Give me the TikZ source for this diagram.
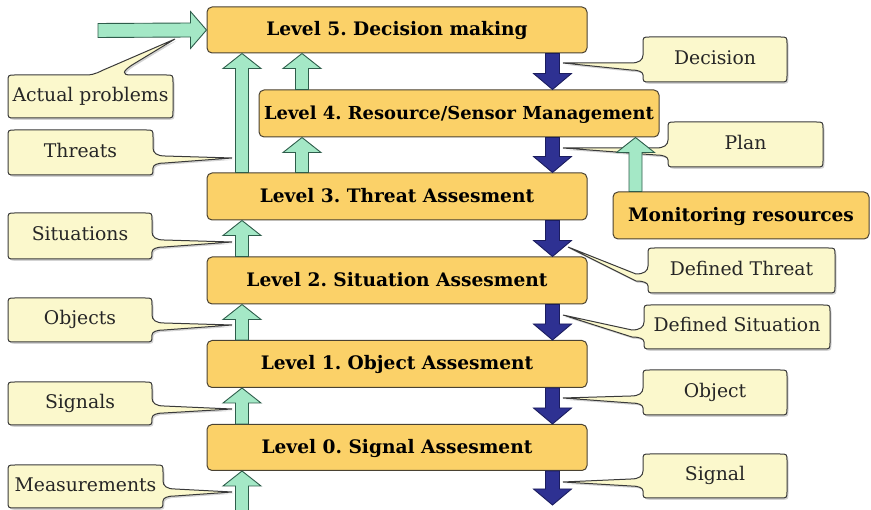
\documentclass[tikz,border=0pt]{standalone}
\usepackage{fontspec}
\setmainfont{DejaVu Serif}
\usetikzlibrary{calc,shadows}
\frenchspacing

\definecolor{boxfill}{HTML}{FBD168}
\definecolor{boxline}{HTML}{4A4232}
\definecolor{notefill}{HTML}{FBF8CC}
\definecolor{noteline}{HTML}{3A3A3A}
\definecolor{upfill}{HTML}{A4E8C6}
\definecolor{upline}{HTML}{2E5D4B}
\definecolor{downfill}{HTML}{2E3192}
\definecolor{downline}{HTML}{1B1D5E}

% callout whose pointer leaves the right side: name, L, T, R, B, tip, text
\newcommand{\noteright}[7]{%
  \draw[callout] ({#2+7},#3) -- ({#4-7},#3) .. controls (#4,#3) .. (#4,{#3+7})
    -- (#4,{#5-27}) .. controls (#4,{#5-22}) and ({#4+4},{#5-19}) .. ({#4+12},{#5-19})
    -- (#6) -- ({#4+12},{#5-12}) .. controls ({#4+4},{#5-12}) and (#4,{#5-10}) .. (#4,{#5-7})
    .. controls (#4,#5) .. ({#4-7},#5) -- ({#2+7},#5) .. controls (#2,#5) .. (#2,{#5-7})
    -- (#2,{#3+7}) .. controls (#2,#3) .. ({#2+7},#3) -- cycle;
  \node[notetext] (#1) at ({(#2+#4)/2},{(#3+#5)/2}) {#7};}

% callout whose pointer leaves the left side: name, L, T, R, B, tip, text
\newcommand{\noteleft}[7]{%
  \draw[callout] ({#2+7},#3) -- ({#4-7},#3) .. controls (#4,#3) .. (#4,{#3+7})
    -- (#4,{#5-7}) .. controls (#4,#5) .. ({#4-7},#5) -- ({#2+7},#5)
    .. controls (#2,#5) .. (#2,{#5-7})
    .. controls (#2,{#5-10}) and ({#2-4},{#5-12}) .. ({#2-12},{#5-12})
    -- (#6) -- ({#2-12},{#5-19}) .. controls ({#2-4},{#5-19}) and (#2,{#5-22}) .. (#2,{#5-27})
    -- (#2,{#3+7}) .. controls (#2,#3) .. ({#2+7},#3) -- cycle;
  \node[notetext] (#1) at ({(#2+#4)/2},{(#3+#5)/2}) {#7};}

% broad upward arrow: style, tail, head
\newcommand{\fatup}[3]{%
  \draw[#1] ($(#2)+(-6.5,0)$) -- ($(#3)+(-6.5,15)$) -- ($(#3)+(-19,15)$) -- (#3)
    -- ($(#3)+(19,15)$) -- ($(#3)+(6.5,15)$) -- ($(#2)+(6.5,0)$) -- cycle;}
% broad downward arrow: style, tail, head
\newcommand{\fatdown}[3]{%
  \draw[#1] ($(#2)+(-7,0)$) -- ($(#3)+(-7,-16)$) -- ($(#3)+(-19,-16)$) -- (#3)
    -- ($(#3)+(19,-16)$) -- ($(#3)+(7,-16)$) -- ($(#2)+(7,0)$) -- cycle;}
% broad rightward arrow: style, tail, head
\newcommand{\fatright}[3]{%
  \draw[#1] ($(#2)+(0,-7)$) -- ($(#3)+(-16,-7)$) -- ($(#3)+(-16,-18.5)$) -- (#3)
    -- ($(#3)+(-16,18.5)$) -- ($(#3)+(-16,7)$) -- ($(#2)+(0,7)$) -- cycle;}

\begin{document}
\begin{tikzpicture}[x=1pt,y=-1pt,
  level/.style={rectangle, rounded corners=5pt, fill=boxfill, draw=boxline,
    line width=1pt, inner sep=0pt, minimum height=47,
    text height=12pt, text depth=0pt,
    font=\bfseries\fontsize{18.6}{21}\selectfont},
  callout/.style={fill=notefill, draw=noteline, line width=1pt,
    drop shadow={shadow xshift=1.5pt, shadow yshift=-1.8pt, opacity=0.35}},
  notetext/.style={inner sep=0pt, text height=10pt, text depth=0pt,
    font=\fontsize{18.8}{21}\selectfont, text=black!85},
  upflow/.style={fill=upfill, draw=upline, line width=0.9pt, line join=miter},
  downflow/.style={fill=downfill, draw=downline, line width=0.9pt, line join=miter}]
\useasboundingbox (0,0) rectangle (871,510);

% processing levels
\node[level, minimum width=380, minimum height=46] (l5) at (397,30) {Level 5. Decision making};
\node[level, minimum width=400, font=\bfseries\fontsize{17.9}{21}\selectfont] (l4) at (459,113.5) {Level 4. Resource/Sensor Management};
\node[level, minimum width=380] (l3) at (397,196.5) {Level 3. Threat Assesment};
\node[level, minimum width=380] (l2) at (397,280.5) {Level 2. Situation Assesment};
\node[level, minimum width=380] (l1) at (397,364) {Level 1. Object Assesment};
\node[level, minimum width=380, minimum height=46] (l0) at (397,447.5) {Level 0. Signal Assesment};
\node[level, minimum width=256] (mon) at (741,215.5) {Monitoring resources};

% columns of the flows
\coordinate (gx) at (242,0);
\coordinate (hx) at (302,0);
\coordinate (mx) at (635.5,0);
\coordinate (bx) at (552.5,0);
\coordinate (inA) at (98,30.5);
\coordinate (inM) at (242,511);
\coordinate (outS) at (552.5,505);

% callout tips
\coordinate (tA) at (175,39);
\coordinate (tThreats) at (232,158);
\coordinate (tSit) at (232,242);
\coordinate (tObj) at (232,325);
\coordinate (tSig) at (232,409);
\coordinate (tMeas) at (232,492);
\coordinate (tDec) at (563,63);
\coordinate (tPlan) at (563,148);
\coordinate (tDT) at (568,247);
\coordinate (tDS) at (563,315);
\coordinate (tO) at (563,398);
\coordinate (tS) at (563,482);

% callout pointing up from its top edge
\draw[callout] (15,75) -- (86,75) .. controls (96,75) and (100,71) .. (108,68)
  -- (tA) -- (132,65) .. controls (123,71) and (121,75) .. (131,75)
  -- (166,75) .. controls (173,75) .. (173,82) -- (173,111) .. controls (173,118) .. (166,118)
  -- (15,118) .. controls (8,118) .. (8,111) -- (8,82) .. controls (8,75) .. (15,75) -- cycle;
\node[notetext] (actual) at (90.5,96.5) {Actual problems};

\noteright{threats}{8}{130}{153}{175}{tThreats}{Threats}
\noteright{situations}{8}{213}{152}{259}{tSit}{Situations}
\noteright{objects}{8}{298}{152}{342}{tObj}{Objects}
\noteright{signals}{8}{382}{152}{425}{tSig}{Signals}
\noteright{measurements}{8}{465}{163}{508}{tMeas}{Measurements}

\noteleft{decision}{643}{37}{787}{82}{tDec}{Decision}
\noteleft{plan}{668}{122}{823}{167}{tPlan}{Plan}
\noteleft{dthreat}{648}{248}{835}{293}{tDT}{Defined Threat}
\noteleft{dsituation}{644}{305}{830}{349}{tDS}{Defined Situation}
\noteleft{object}{643}{370}{787}{415}{tO}{Object}
\noteleft{signal}{643}{454}{787}{498}{tS}{Signal}

% upward flows
\fatright{upflow}{inA}{l5.west}
\fatup{upflow}{l3.north -| gx}{l5.south -| gx}
\fatup{upflow}{l4.north -| hx}{l5.south -| hx}
\fatup{upflow}{l3.north -| hx}{l4.south -| hx}
\fatup{upflow}{mon.north -| mx}{l4.south -| mx}
\fatup{upflow}{l2.north -| gx}{l3.south -| gx}
\fatup{upflow}{l1.north -| gx}{l2.south -| gx}
\fatup{upflow}{l0.north -| gx}{l1.south -| gx}
\fatup{upflow}{inM}{l0.south -| gx}

% downward flows
\fatdown{downflow}{l5.south -| bx}{l4.north -| bx}
\fatdown{downflow}{l4.south -| bx}{l3.north -| bx}
\fatdown{downflow}{l3.south -| bx}{l2.north -| bx}
\fatdown{downflow}{l2.south -| bx}{l1.north -| bx}
\fatdown{downflow}{l1.south -| bx}{l0.north -| bx}
\fatdown{downflow}{l0.south -| bx}{outS}
\end{tikzpicture}
\end{document}
